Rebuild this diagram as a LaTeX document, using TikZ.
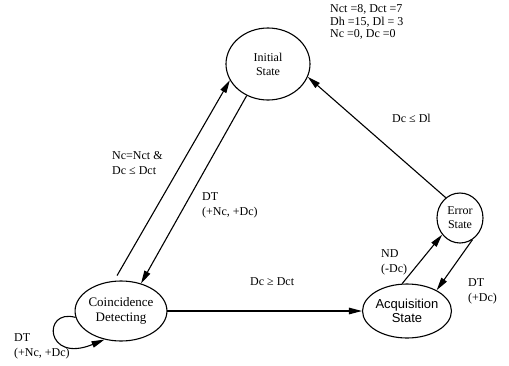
\documentclass[tikz,border=0pt]{standalone}
\usepackage{fontspec}
\setmainfont{Liberation Serif}
\newfontfamily\lsans{Liberation Sans}
\usetikzlibrary{arrows.meta,shapes.geometric}
\begin{document}
\begin{tikzpicture}[x=1pt,y=-1pt,
  state/.style={draw,ellipse,line width=1.1pt,inner sep=0pt,align=center,font=\fontsize{12}{14}\selectfont},
  sstate/.style={state,font=\lsans\fontsize{13}{14.5}\selectfont},
  lbl/.style={anchor=west,align=left,inner sep=0pt,font=\fontsize{12}{15}\selectfont},
  conn/.style={line width=1.1pt,-{Triangle[length=13pt,width=6.5pt]}}]
\useasboundingbox (0,0) rectangle (509,365);
\node[state,minimum width=84pt,minimum height=72pt] (init) at (268,64) {Initial\\State};
\node[state,minimum width=46pt,minimum height=50pt] (err) at (460,218) {Error\\State};
\node[sstate,minimum width=74pt,minimum height=54pt] (acq) at (407,311) {Acquisition\\State};
\node[state,font=\fontsize{13}{14.5}\selectfont,minimum width=82pt,minimum height=60pt] (coinc) at (121,311) {Coincidence\\Detecting};
\draw[conn,shorten <=6pt] (coinc.103) -- (init.203);
\draw[conn] (init.236) -- (coinc.54);
\draw[conn] (err.125) -- (init.-18);
\draw[conn] (acq.100) -- (err.223);
\draw[conn] (err.-60) -- (acq.35);
\draw[conn] (coinc.east) -- (acq.west);
\draw[conn] (coinc.188) .. controls (42,308) and (45,364) .. (coinc.240);
\node[lbl,font=\fontsize{12}{12.5}\selectfont] (par) at (330,22) {Nct =8, Dct =7\\Dh =15, Dl = 3\\Nc =0, Dc =0};
\node[lbl] (l1) at (112,163) {Nc=Nct \&\\Dc ≤ Dct};
\node[lbl] (l2) at (202,205) {DT\\(+Nc, +Dc)};
\node[lbl] (l3) at (14,346) {DT\\(+Nc, +Dc)};
\node[lbl] (l4) at (250,282) {Dc ≥ Dct};
\node[lbl] (l5) at (381,262) {ND\\(-Dc)};
\node[lbl] (l6) at (468,291) {DT\\(+Dc)};
\node[lbl] (l7) at (392,118) {Dc ≤ Dl};
\end{tikzpicture}
\end{document}
